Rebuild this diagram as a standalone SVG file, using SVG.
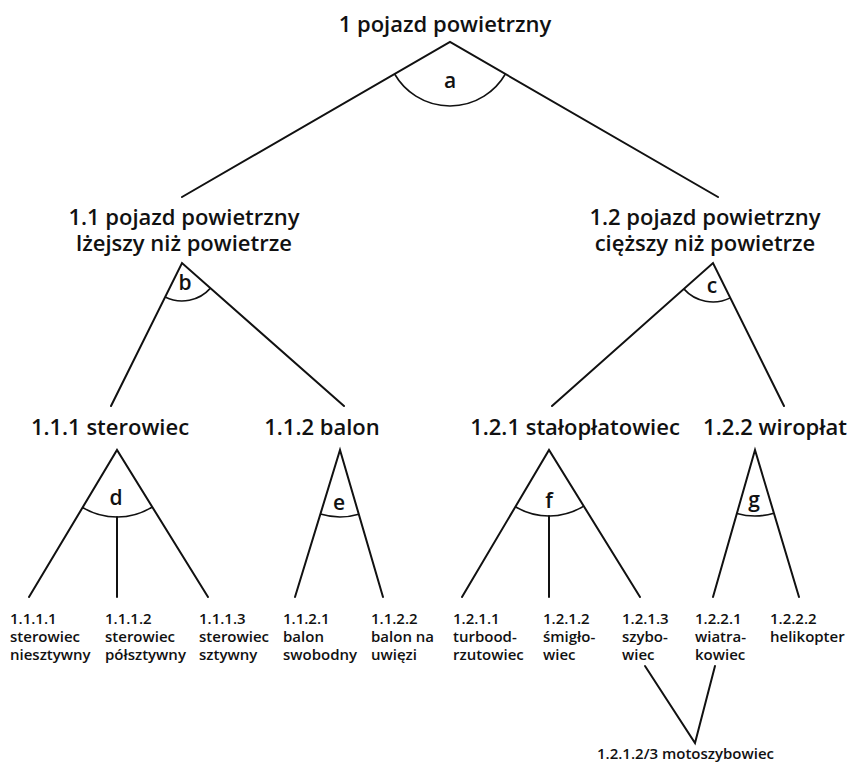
<svg xmlns="http://www.w3.org/2000/svg" width="851" height="765" viewBox="0 0 851 765">
  <style>
    .big { font-family: "Open Sans", "Noto Sans", "Liberation Sans", sans-serif; font-weight: 600; font-size: 22px; fill: #111; text-anchor: middle; }
    .small { font-family: "Open Sans", "Noto Sans", "Liberation Sans", sans-serif; font-weight: 600; font-size: 15px; fill: #111; }
    .tag { font-family: "Open Sans", "Noto Sans", "Liberation Sans", sans-serif; font-weight: 600; font-size: 21px; fill: #111; text-anchor: middle; }
    .edge { stroke: #111; stroke-width: 2; fill: none; stroke-linecap: round; }
    .arc { stroke: #111; stroke-width: 1.6; fill: none; }
  </style>
  <rect width="851" height="765" fill="#fff"/>

  <!-- connectors and division arcs -->
  <g id="connectors">
    <!-- 1 -> 1.1 / 1.2 -->
    <path class="edge" d="M182,197 L450,42 L718,197"/>
    <path class="arc" d="M394.6,74 A64,64 0 0 0 505.4,74"/>
    <!-- 1.1 -> 1.1.1 / 1.1.2 -->
    <path class="edge" d="M111,406 L182,263 L344,406"/>
    <path class="arc" d="M165.1,297 A38,38 0 0 0 210.5,288.1"/>
    <!-- 1.2 -> 1.2.1 / 1.2.2 -->
    <path class="edge" d="M552,406 L713,263 L784,406"/>
    <path class="arc" d="M683.8,288.9 A39,39 0 0 0 730.3,297.9"/>
    <!-- 1.1.1 -> leaves -->
    <path class="edge" d="M29,597 L117,450 L208,597"/>
    <path class="edge" d="M117,517 L117,597"/>
    <path class="arc" d="M82.6,507.5 A67,67 0 0 0 152.3,507"/>
    <!-- 1.1.2 -> leaves -->
    <path class="edge" d="M295,597 L340,450 L383,597"/>
    <path class="arc" d="M320.4,514.1 A67,67 0 0 0 358.8,514.3"/>
    <!-- 1.2.1 -> leaves -->
    <path class="edge" d="M462,597 L549,450 L640,597"/>
    <path class="edge" d="M549,516 L549,597"/>
    <path class="arc" d="M515.4,506.8 A66,66 0 0 0 583.7,506.1"/>
    <!-- 1.2.2 -> leaves -->
    <path class="edge" d="M713,597 L755,450 L799,597"/>
    <path class="arc" d="M736.9,513.5 A66,66 0 0 0 773.9,513.2"/>
    <!-- shared child of 1.2.1.3 and 1.2.2.1 -->
    <path class="edge" d="M645,666 L695,743 L715,666"/>
  </g>

  <!-- division criteria -->
  <g id="criteria">
    <text class="tag" x="450" y="88">a</text>
    <text class="tag" x="185" y="290">b</text>
    <text class="tag" x="712" y="293">c</text>
    <text class="tag" x="116" y="505">d</text>
    <text class="tag" x="339" y="510">e</text>
    <text class="tag" x="549" y="508">f</text>
    <text class="tag" x="754" y="507">g</text>
  </g>

  <g id="n1"><text class="big" x="445" y="32">1 pojazd powietrzny</text></g>
  <g id="n1-1">
    <text class="big" x="184" y="225">1.1 pojazd powietrzny</text>
    <text class="big" x="184" y="251">lżejszy niż powietrze</text>
  </g>
  <g id="n1-2">
    <text class="big" x="705" y="225">1.2 pojazd powietrzny</text>
    <text class="big" x="705" y="251">cięższy niż powietrze</text>
  </g>
  <g id="n1-1-1"><text class="big" x="110" y="435">1.1.1 sterowiec</text></g>
  <g id="n1-1-2"><text class="big" x="322" y="435">1.1.2 balon</text></g>
  <g id="n1-2-1"><text class="big" x="575" y="435">1.2.1 stałopłatowiec</text></g>
  <g id="n1-2-2"><text class="big" x="775" y="435">1.2.2 wiropłat</text></g>

  <g id="n1-1-1-1">
    <text class="small" x="10" y="624">1.1.1.1</text>
    <text class="small" x="10" y="642">sterowiec</text>
    <text class="small" x="10" y="660">niesztywny</text>
  </g>
  <g id="n1-1-1-2">
    <text class="small" x="105" y="624">1.1.1.2</text>
    <text class="small" x="105" y="642">sterowiec</text>
    <text class="small" x="105" y="660">półsztywny</text>
  </g>
  <g id="n1-1-1-3">
    <text class="small" x="199" y="624">1.1.1.3</text>
    <text class="small" x="199" y="642">sterowiec</text>
    <text class="small" x="199" y="660">sztywny</text>
  </g>
  <g id="n1-1-2-1">
    <text class="small" x="283" y="624">1.1.2.1</text>
    <text class="small" x="283" y="642">balon</text>
    <text class="small" x="283" y="660">swobodny</text>
  </g>
  <g id="n1-1-2-2">
    <text class="small" x="371" y="624">1.1.2.2</text>
    <text class="small" x="371" y="642">balon na</text>
    <text class="small" x="371" y="660">uwięzi</text>
  </g>
  <g id="n1-2-1-1">
    <text class="small" x="453" y="624">1.2.1.1</text>
    <text class="small" x="453" y="642">turbood-</text>
    <text class="small" x="453" y="660">rzutowiec</text>
  </g>
  <g id="n1-2-1-2">
    <text class="small" x="543" y="624">1.2.1.2</text>
    <text class="small" x="543" y="642">śmigło-</text>
    <text class="small" x="543" y="660">wiec</text>
  </g>
  <g id="n1-2-1-3">
    <text class="small" x="622" y="624">1.2.1.3</text>
    <text class="small" x="622" y="642">szybo-</text>
    <text class="small" x="622" y="660">wiec</text>
  </g>
  <g id="n1-2-2-1">
    <text class="small" x="695" y="624">1.2.2.1</text>
    <text class="small" x="695" y="642">wiatra-</text>
    <text class="small" x="695" y="660">kowiec</text>
  </g>
  <g id="n1-2-2-2">
    <text class="small" x="770" y="624">1.2.2.2</text>
    <text class="small" x="770" y="642">helikopter</text>
  </g>
  <g id="n1-2-1-2-3">
    <text class="small" x="597" y="759">1.2.1.2/3 motoszybowiec</text>
  </g>
</svg>
